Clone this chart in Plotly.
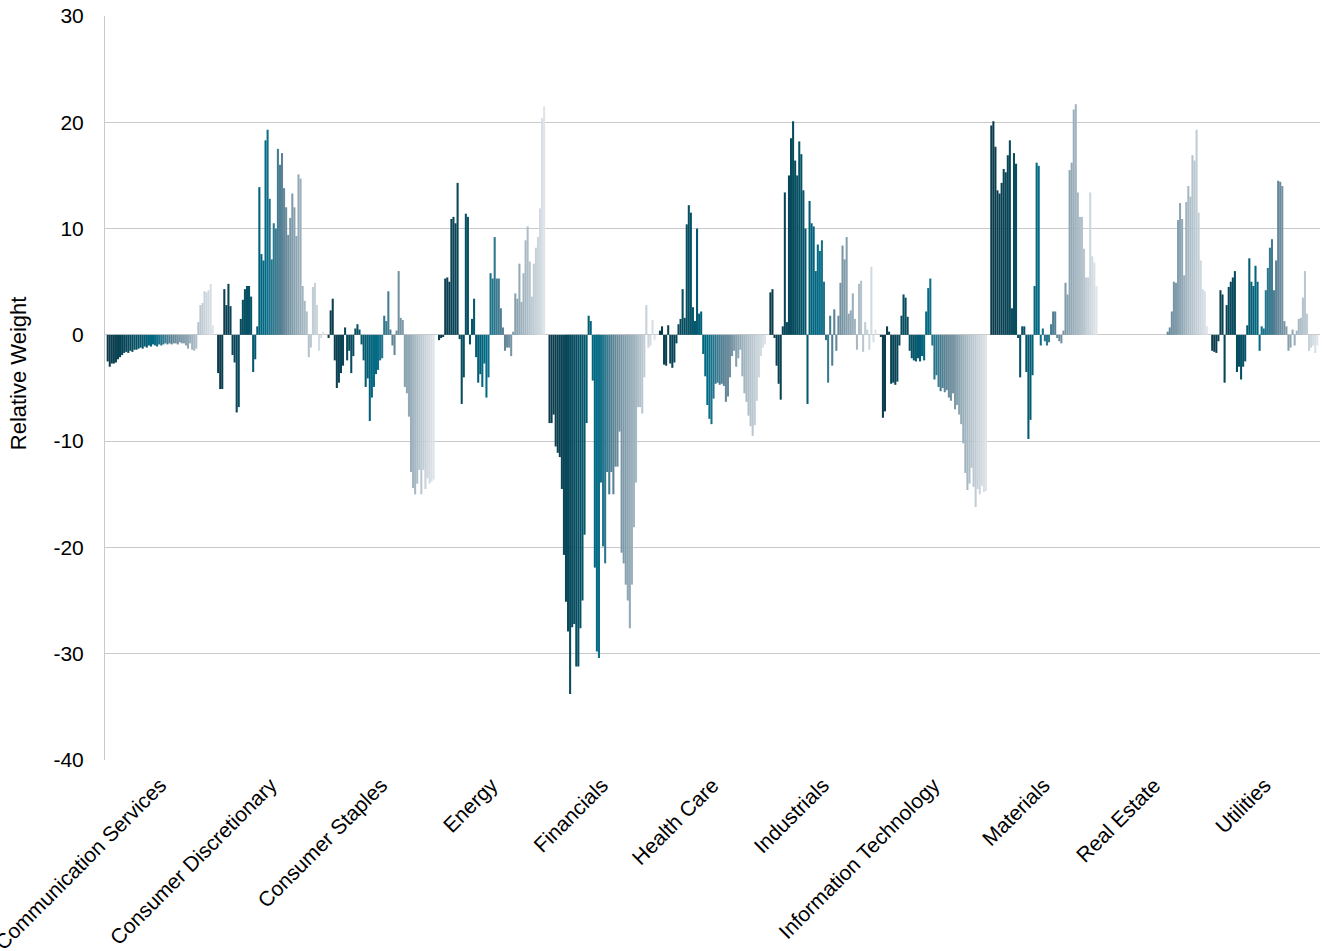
import plotly.graph_objects as go

# GICS sectors on the category axis
sectors = [
    "Communication Services", "Consumer Discretionary", "Consumer Staples",
    "Energy", "Financials", "Health Care", "Industrials",
    "Information Technology", "Materials", "Real Estate", "Utilities",
]

# Relative weight per period (oldest -> newest) for each sector
communication_services = [
    -2.5, -3.0, -2.7, -2.7, -2.6, -2.3, -2.1, -1.9, -1.7, -1.6,
    -1.7, -1.5, -1.6, -1.4, -1.4, -1.3, -1.2, -1.3, -1.1, -1.2,
    -1.0, -1.1, -0.9, -1.0, -1.1, -0.9, -1.0, -0.9, -0.8, -0.9,
    -0.8, -0.9, -0.8, -0.8, -0.9, -0.7, -0.8, -0.8, -1.0, -1.3,
    -0.8, -1.4, -1.5, -1.3, 1.2, 2.8, 3.0, 4.1, 4.0, 4.2,
    4.8, 0.9,
]
consumer_discretionary = [
    -3.6, -5.1, -5.1, 4.3, 2.8, 4.8, 2.7, -1.9, -2.6, -7.3,
    -6.8, 1.5, 3.3, 4.3, 4.6, 4.6, 3.6, -3.5, -2.3, 0.8,
    13.9, 7.6, 7.0, 18.3, 19.3, 12.8, 7.1, 10.5, 10.0, 17.5,
    16.0, 17.1, 13.8, 12.0, 9.4, 11.0, 13.3, 12.0, 9.3, 15.1,
    14.7, 4.6, 3.2, 2.2, -2.1, -1.2, 4.5, 4.9, 2.8, -1.5,
    -0.3, 0.3,
]
consumer_staples = [
    -0.3, 2.3, 3.4, -2.4, -5.0, -4.5, -3.6, -2.9, 0.7, -2.4,
    -1.5, -3.6, -2.0, 0.6, 1.0, 0.5, -0.9, -2.4, -4.9, -4.1,
    -8.1, -5.9, -4.9, -3.7, -3.3, -2.4, -2.2, 1.8, 1.3, 4.1,
    0.5, -1.0, -1.9, 0.4, 6.0, 1.6, 1.4, -4.9, -5.5, -7.7,
    -12.9, -14.4, -15.0, -14.0, -12.7, -15.0, -12.7, -14.5, -13.5, -14.0,
    -13.8, -13.6,
]
energy = [
    -0.5, -0.3, -0.2, 5.3, 5.4, 5.0, 10.9, 11.1, 10.5, 14.3,
    -0.4, -6.5, -4.0, 11.4, 11.1, -0.9, 1.5, 3.4, -2.1, -4.5,
    -3.7, -4.9, -2.7, -5.9, -4.0, 5.8, 5.3, 9.2, 5.3, 5.3,
    2.5, 0.7, -1.5, -1.2, -1.2, -2.0, 0.3, 3.9, 3.4, 6.7,
    3.1, 5.8, 8.9, 10.2, 6.9, 3.6, 6.7, 8.2, 9.2, 11.9,
    20.4, 21.5,
]
financials = [
    -8.3, -8.3, -7.5, -10.5, -11.1, -11.5, -14.5, -20.7, -25.1, -27.9,
    -33.8, -27.5, -27.2, -31.2, -31.2, -27.6, -25.0, -18.8, -8.3, 1.8,
    1.3, -4.3, -21.9, -29.8, -30.4, -13.9, -19.9, -21.5, -12.9, -15.0,
    -12.9, -15.0, -12.4, -12.4, -9.1, -20.5, -21.5, -23.5, -25.0, -27.6,
    -23.5, -18.1, -13.9, -6.8, -6.8, -7.4, -4.0, 2.8, -1.2, -1.0,
    1.4, -0.5,
]
health_care = [
    0.4, 0.8, -2.8, -2.9, 0.9, -2.7, -3.1, -2.6, -0.8, 1.0,
    1.5, 4.3, 1.6, 10.4, 12.2, 11.5, 2.6, 1.3, 10.0, 2.0,
    2.2, -1.8, -3.9, -6.6, -7.9, -8.4, -6.0, -4.6, -4.5, -4.7,
    -4.6, -4.8, -6.3, -5.8, -4.0, -2.0, -1.5, -3.0, -2.2, -1.4,
    -3.9, -5.5, -6.3, -7.6, -8.6, -9.5, -8.5, -6.2, -4.0, -2.0,
    -1.2, -0.9,
]
industrials = [
    4.0, 4.3, -0.3, -2.9, -4.6, -6.1, 0.8, 13.4, 1.2, 15.0,
    18.5, 20.1, 16.4, 15.0, 18.2, 17.0, 13.6, 10.0, -6.5, 12.6,
    10.5, 10.2, 6.0, 8.5, 7.9, 8.9, 5.0, -0.5, -4.5, 1.8,
    -2.9, 2.4, -1.5, 1.8, 4.9, 8.4, 7.1, 9.2, 2.0, 2.3,
    3.9, 1.5, -1.4, 4.8, 5.1, -1.6, 1.2, 0.5, -1.4, 6.4,
    -0.7, 0.5,
]
information_technology = [
    -0.2, -7.8, -7.2, 0.8, 0.3, -4.6, -4.5, -4.7, -4.4, -1.0,
    1.8, 3.8, 3.5, 1.7, -1.5, -2.2, -2.4, -2.5, -2.2, -2.5,
    -2.0, -2.4, 2.2, 4.4, 5.3, -1.0, -4.2, -3.8, -4.9, -5.3,
    -5.0, -5.4, -5.2, -5.9, -6.2, -5.5, -7.0, -6.6, -7.5, -8.4,
    -10.2, -13.0, -14.6, -14.0, -12.5, -14.3, -16.2, -14.5, -15.0, -14.2,
    -14.8, -14.7,
]
materials = [
    19.7, 20.1, 17.7, 13.6, 13.3, 14.3, 15.6, 15.3, 16.9, 18.3,
    2.5, 17.1, 16.1, -0.3, -4.0, 0.8, 0.8, -3.5, -9.8, -8.0,
    -3.8, 4.6, 16.2, 15.9, -1.0, 0.6, -0.6, -1.0, -0.7, 1.0,
    2.2, 2.2, -0.3, -0.6, -0.8, 0.4, 4.9, 3.8, 15.5, 16.2,
    21.2, 21.7, 13.4, 11.1, 11.1, 8.1, 5.4, 5.4, 13.4, 7.4,
    6.8, 4.6,
]
# Real Estate only exists as a sector in the later periods
real_estate = [None] * 32 + [
    0.3, 0.7, 2.2, 5.0, 4.9, 10.8, 12.4, 10.9, 5.6, 12.5,
    14.0, 13.0, 16.9, 16.4, 19.3, 11.5, 7.0, 4.3, 4.1, 0.8,
]
utilities = [
    -1.5, -1.6, -1.7, -0.6, 4.2, 3.8, -4.5, 2.8, 4.5, 5.0,
    5.4, 6.0, -3.5, -3.0, -4.2, -3.0, -2.5, 0.9, 7.2, 5.0,
    4.6, 6.5, 5.0, -1.5, 0.8, 0.6, 4.2, 6.3, 8.2, 9.0,
    4.2, 7.0, 14.5, 14.4, 14.0, 1.3, 0.8, -1.5, -1.2, 0.5,
    -1.0, 0.4, 1.5, 1.6, 3.5, 6.0, 2.0, -1.5, -1.2, -1.0,
    -1.7, -1.0,
]

sector_series = [
    communication_services, consumer_discretionary, consumer_staples,
    energy, financials, health_care, industrials,
    information_technology, materials, real_estate, utilities,
]
n_periods = len(communication_services)

# Y-axis ticks, labelled with a plain hyphen for negatives
y_ticks = [-40, -30, -20, -10, 0, 10, 20, 30]
y_tick_text = [str(v) for v in y_ticks]

# Colour ramp across periods: dark petrol -> teal -> slate -> pale grey
ramp = [
    (0.00, (11, 58, 74)),
    (0.30, (6, 82, 102)),
    (0.45, (0, 107, 134)),
    (0.62, (96, 132, 150)),
    (0.80, (160, 179, 190)),
    (1.00, (222, 228, 233)),
]


def ramp_color(f):
    for (p0, c0), (p1, c1) in zip(ramp[:-1], ramp[1:]):
        if f <= p1:
            t = (f - p0) / (p1 - p0)
            r, g, b = (round(a + (b_ - a) * t) for a, b_ in zip(c0, c1))
            return f"rgb({r},{g},{b})"
    return "rgb(%d,%d,%d)" % ramp[-1][1]


fig = go.Figure()
for t in range(n_periods):
    fig.add_trace(go.Bar(
        x=sectors,
        y=[series[t] for series in sector_series],
        name=f"Period {t + 1}",
        marker=dict(color=ramp_color(t / (n_periods - 1)), line=dict(width=0)),
        showlegend=False,
    ))

font_family = "Liberation Sans, Arial, sans-serif"
fig.update_layout(
    width=1322,
    height=951,
    margin=dict(l=105, r=2, t=16, b=191),
    barmode="group",
    bargap=0.03,
    bargroupgap=0,
    plot_bgcolor="white",
    paper_bgcolor="white",
    font=dict(family=font_family, size=21, color="#000000"),
    xaxis=dict(
        tickangle=-45,
        showgrid=False,
        showline=False,
        ticks="",
        tickfont=dict(size=21),
        ticklabelstandoff=8,
        automargin=False,
    ),
    yaxis=dict(
        range=[-40, 30],
        tickmode="array",
        tickvals=y_ticks,
        ticktext=y_tick_text,
        showgrid=True,
        gridcolor="#c9c9c9",
        gridwidth=1,
        zeroline=True,
        zerolinecolor="#c9c9c9",
        zerolinewidth=1,
        showline=True,
        linecolor="#c9c9c9",
        linewidth=1,
        ticks="",
        tickfont=dict(size=21),
        ticklabelstandoff=16,
        automargin=False,
    ),
    annotations=[dict(
        text="Relative Weight",
        xref="paper", yref="paper",
        x=-0.0715, y=0.52,
        xanchor="center", yanchor="middle",
        textangle=-90,
        showarrow=False,
        font=dict(size=22, family=font_family),
    )],
)

fig.write_html("out.html")
